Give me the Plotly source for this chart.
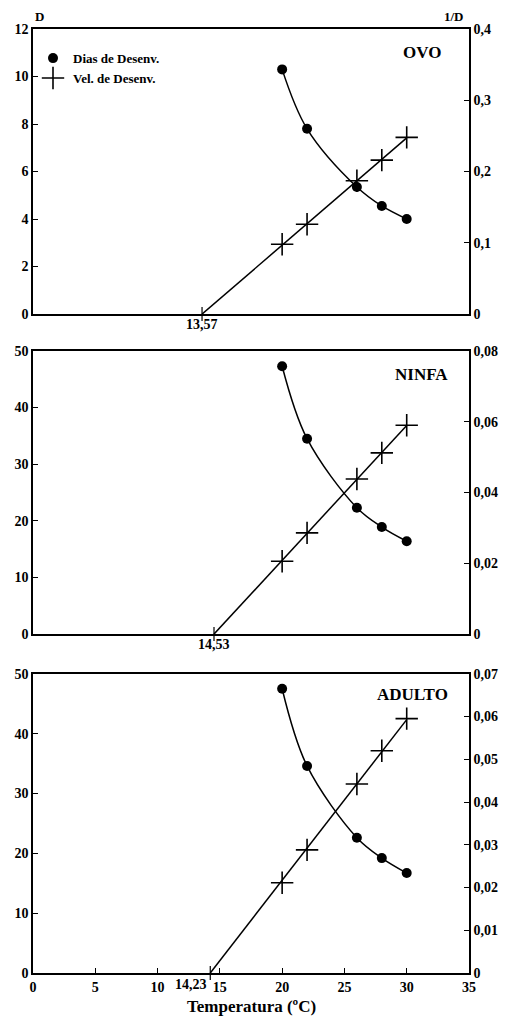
import plotly.graph_objects as go
import numpy as np

# ---- data ----
temps = [20, 22, 26, 28, 30]
ovo_dias = [10.3, 7.8, 5.35, 4.55, 4.0]
ovo_vel = [0.098, 0.126, 0.187, 0.216, 0.248]
ninfa_dias = [47.3, 34.5, 22.3, 18.9, 16.4]
ninfa_vel = [0.0206, 0.0286, 0.0438, 0.0512, 0.059]
adulto_dias = [47.5, 34.6, 22.6, 19.2, 16.7]
adulto_vel = [0.0211, 0.0288, 0.0442, 0.052, 0.0595]
thresholds = [13.57, 14.53, 14.23]
threshold_labels = ["13,57", "14,53", "14,23"]
panel_titles = ["OVO", "NINFA", "ADULTO"]

left_ticks = [[0, 2, 4, 6, 8, 10, 12], [0, 10, 20, 30, 40, 50], [0, 10, 20, 30, 40, 50]]
right_ticks = [[0, 0.1, 0.2, 0.3, 0.4],
               [0, 0.02, 0.04, 0.06, 0.08],
               [0, 0.01, 0.02, 0.03, 0.04, 0.05, 0.06, 0.07]]
right_ticktext = [["0", "0,1", "0,2", "0,3", "0,4"],
                  ["0", "0,02", "0,04", "0,06", "0,08"],
                  ["0", "0,01", "0,02", "0,03", "0,04", "0,05", "0,06", "0,07"]]
x_ticks = [0, 5, 10, 15, 20, 25, 30, 35]

dias = [ovo_dias, ninfa_dias, adulto_dias]
vels = [ovo_vel, ninfa_vel, adulto_vel]

FONT = "Liberation Serif"
W, H = 510, 1022
ML, MR, MT, MB = 33, 38, 29, 49
domains = [(0.698, 1.0), (0.359, 0.659), (0.0, 0.317)]
title_x_px = [446, 453, 453]
title_y = [0.916, 0.915, 0.93]

fig = go.Figure()
for i in range(3):
    xa = "x" if i == 0 else f"x{i+1}"
    yl = "y" if i == 0 else f"y{2*i+1}"
    yr = f"y{2*i+2}"
    T = np.array(temps, dtype=float)
    v = np.array(vels[i])
    t0 = thresholds[i]
    k = np.sum((T - t0) * v) / np.sum((T - t0) ** 2)
    # regression line
    fig.add_trace(go.Scatter(x=[t0, max(temps)], y=[0, k * (max(temps) - t0)],
                             mode="lines", line=dict(color="black", width=1.5),
                             xaxis=xa, yaxis=yr, showlegend=False, hoverinfo="skip"))
    # threshold tick
    fig.add_trace(go.Scatter(x=[t0], y=[0], mode="markers",
                             marker=dict(symbol="line-ns", size=10, color="black",
                                         line=dict(color="black", width=1.2)),
                             xaxis=xa, yaxis=yr, showlegend=False, cliponaxis=False))
    # D curve
    fig.add_trace(go.Scatter(x=temps, y=dias[i], mode="lines",
                             line=dict(color="black", width=1.5, shape="spline", smoothing=1.0),
                             xaxis=xa, yaxis=yl, showlegend=False))
    fig.add_trace(go.Scatter(x=temps, y=dias[i], mode="markers",
                             marker=dict(symbol="circle", size=10, color="black"),
                             xaxis=xa, yaxis=yl, name="Dias de Desenv.", showlegend=(i == 0)))
    fig.add_trace(go.Scatter(x=temps, y=vels[i], mode="markers",
                             marker=dict(symbol="cross-thin-open", size=16, color="black",
                                         line=dict(color="black", width=1.6)),
                             xaxis=xa, yaxis=yr, name="Vel. de Desenv.", showlegend=(i == 0)))

    axis_common = dict(showline=True, linecolor="black", linewidth=1.5, showgrid=False,
                       zeroline=False, tickfont=dict(family=FONT, size=14, color="black", weight="bold"))
    xkey = "xaxis" if i == 0 else f"xaxis{i+1}"
    ykl = "yaxis" if i == 0 else f"yaxis{2*i+1}"
    ykr = f"yaxis{2*i+2}"
    fig.layout[xkey] = dict(axis_common, range=[0, 35], domain=[0, 1], anchor=yl, mirror=True,
                            tickvals=x_ticks, showticklabels=(i == 2),
                            ticks="inside" if i == 2 else "", ticklen=5, tickcolor="black")
    fig.layout[ykl] = dict(axis_common, range=[0, left_ticks[i][-1]], domain=list(domains[i]),
                           anchor=xa, tickvals=left_ticks[i], ticks="inside", ticklen=5,
                           tickcolor="black")
    fig.layout[ykr] = dict(axis_common, range=[0, right_ticks[i][-1]], domain=list(domains[i]),
                           anchor=xa, overlaying=yl, side="right", tickvals=right_ticks[i],
                           ticktext=right_ticktext[i], ticks="inside", ticklen=5, tickcolor="black")

    # panel title
    fig.add_annotation(text=f"<b>{panel_titles[i]}</b>", xref="paper", yref=f"{yl} domain",
                       x=(title_x_px[i] - ML) / (W - ML - MR), y=title_y[i], xanchor="right",
                       yanchor="middle", showarrow=False,
                       font=dict(family=FONT, size=17, color="black"))
    # threshold label
    fig.add_annotation(text=f"<b>{threshold_labels[i]}</b>", xref=xa, yref=f"{yl} domain",
                       x=t0, y=0, yanchor="top", xanchor="center",
                       xshift=(-19 if i == 2 else 0), yshift=(-2 if i == 2 else -1),
                       showarrow=False, font=dict(family=FONT, size=14, color="black"))

fig.add_annotation(text="<b>D</b>", xref="paper", yref="paper", x=0, y=1, xanchor="left",
                   yanchor="bottom", yshift=3, showarrow=False,
                   font=dict(family=FONT, size=13, color="black"))
fig.add_annotation(text="<b>1/D</b>", xref="paper", yref="paper", x=1, y=1, xanchor="right",
                   yanchor="bottom", xshift=-3, yshift=3, showarrow=False,
                   font=dict(family=FONT, size=13, color="black"))
fig.add_annotation(text="<b>Temperatura (ºC)</b>", xref="paper", yref="paper", x=0.5, y=0,
                   xanchor="center", yanchor="top", yshift=-22, showarrow=False,
                   font=dict(family=FONT, size=17, color="black"))

fig.update_layout(
    width=W, height=H, margin=dict(l=ML, r=MR, t=MT, b=MB),
    paper_bgcolor="white", plot_bgcolor="white",
    legend=dict(x=0.0, y=0.985, xanchor="left", yanchor="top", bgcolor="rgba(0,0,0,0)",
                font=dict(family=FONT, size=13, color="black", weight="bold"),
                itemwidth=30, tracegroupgap=0),
)
fig.write_html("out.html")
